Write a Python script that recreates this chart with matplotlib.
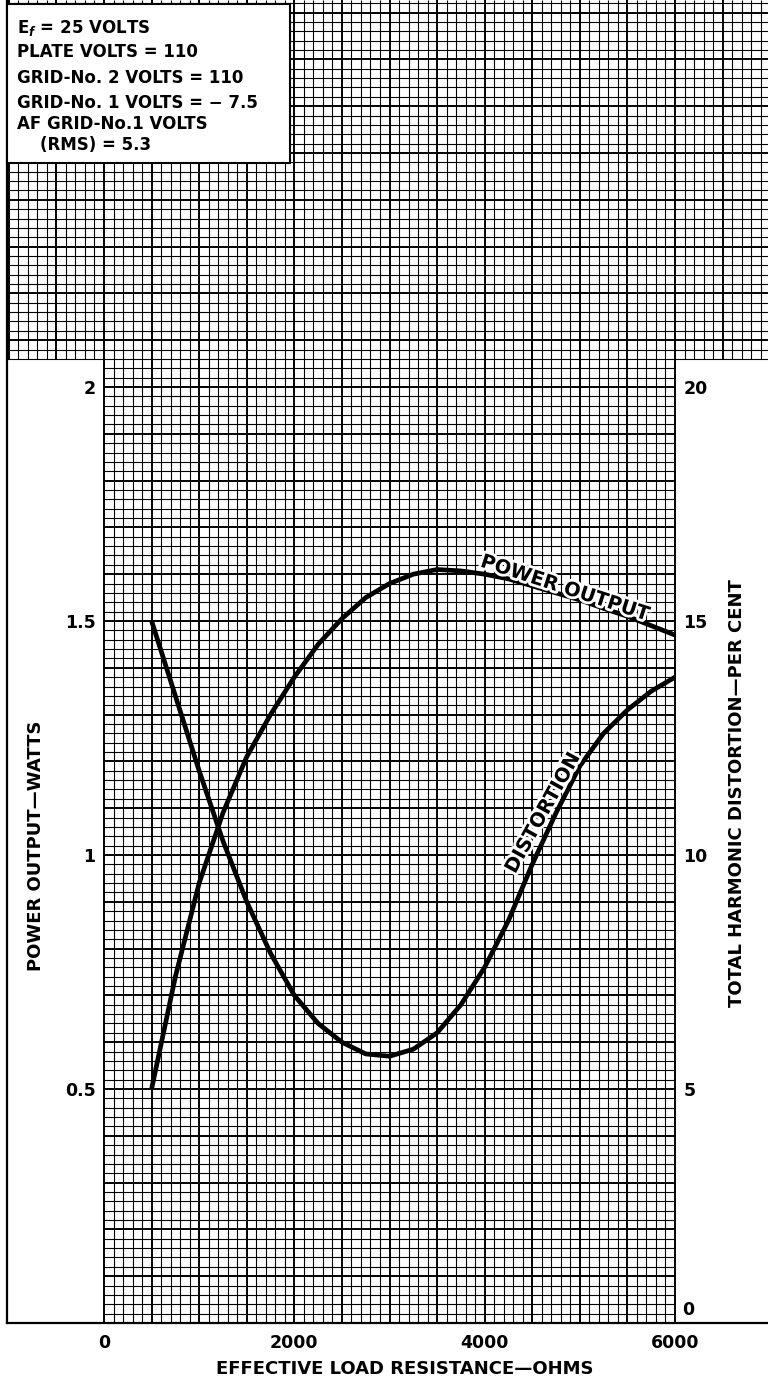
import numpy as np
import matplotlib.pyplot as plt
import matplotlib.patheffects as pe
from matplotlib.patches import Rectangle

# ----------------------------
# Curve data
# ----------------------------
resistance = [500, 750, 1000, 1250, 1500, 1750, 2000, 2250, 2500, 2750, 3000,
              3250, 3500, 3750, 4000, 4250, 4500, 4750, 5000, 5250, 5500, 5750, 6000]
power_watts = [0.50, 0.74, 0.94, 1.09, 1.21, 1.30, 1.38, 1.45, 1.505, 1.55, 1.58,
               1.60, 1.61, 1.607, 1.60, 1.59, 1.575, 1.56, 1.545, 1.527, 1.51, 1.49, 1.47]
distortion_pct = [15.0, 13.4, 11.8, 10.3, 9.0, 7.9, 7.0, 6.4, 6.0, 5.75, 5.7,
                  5.85, 6.2, 6.8, 7.6, 8.6, 9.8, 10.9, 11.9, 12.6, 13.1, 13.5, 13.8]

x_ticks = [0, 2000, 4000, 6000]
power_ticks = [0.5, 1, 1.5, 2]
power_labels = ["0.5", "1", "1.5", "2"]
dist_ticks = [5, 10, 15, 20]
dist_labels = ["5", "10", "15", "20"]

conditions = [
    r"E$_{f}$ = 25 VOLTS",
    "PLATE VOLTS = 110",
    "GRID-No. 2 VOLTS = 110",
    "GRID-No. 1 VOLTS = \u2212 7.5",
    "AF GRID-No.1 VOLTS",
    "    (RMS) = 5.3",
]

plt.rcParams["font.family"] = ["DejaVu Sans"]
plt.rcParams["font.weight"] = "bold"
plt.rcParams["axes.labelweight"] = "bold"

W, H = 768, 1389
fig = plt.figure(figsize=(W / 100, H / 100), dpi=100)

# pixel layout of the printed sheet
left_px = 7
x0_px, x6000_px = 104, 675
y0_px, y2_px = 1323, 387
ohm_per_px = 6000 / (x6000_px - x0_px)
watt_per_px = 2 / (y0_px - y2_px)

# ----------------------------
# Graph paper (background frame)
# ----------------------------
frame = fig.add_axes([left_px / W, 1 - y0_px / H, (W - left_px) / W, y0_px / H])
xmin = (left_px - x0_px) * ohm_per_px
xmax = (W - x0_px) * ohm_per_px
ytop = y0_px * watt_per_px
frame.set_xlim(xmin, xmax)
frame.set_ylim(0, ytop)
frame.set_xticks([])
frame.set_yticks([])
for s in ["top", "right"]:
    frame.spines[s].set_visible(False)
for s in ["left", "bottom"]:
    frame.spines[s].set_linewidth(1.6)

minor_lw, major_lw = 0.8, 1.4
y_cut = 103  # index of first row that runs across the full width (2.06 W)

ix = np.arange(-10, 70)
xs = ix * 100
inside = (xs >= 0) & (xs <= 6000)
heavy_x = ix % 5 == 0
for mask, lw in [(~heavy_x, minor_lw), (heavy_x, major_lw)]:
    frame.vlines(xs[mask & inside], 0, ytop, color="black", lw=lw)
    frame.vlines(xs[mask & ~inside], y_cut * 0.02, ytop, color="black", lw=lw)

iy = np.arange(0, int(ytop / 0.02) + 1)
ys = iy * 0.02
heavy_y = iy % 5 == 0
low = iy < y_cut
for mask, lw in [(~heavy_y, minor_lw), (heavy_y, major_lw)]:
    frame.hlines(ys[mask & low], 0, 6000, color="black", lw=lw)
    frame.hlines(ys[mask & ~low], xmin, xmax, color="black", lw=lw)

# ----------------------------
# Data axes
# ----------------------------
ax = fig.add_axes([x0_px / W, 1 - y0_px / H, (x6000_px - x0_px) / W, (y0_px - y2_px) / H])
ax.set_facecolor("none")
ax.set_xlim(0, 6000)
ax.set_ylim(0, 2)
for s in ax.spines.values():
    s.set_visible(False)

ax.set_xticks(x_ticks, [str(t) for t in x_ticks])
ax.set_yticks(power_ticks, power_labels)
ax.tick_params(axis="x", length=0, pad=8, labelsize=12.5)
ax.tick_params(axis="y", length=0, pad=6, labelsize=12.5)

ax2 = ax.twinx()
ax2.set_ylim(0, 20)
for s in ax2.spines.values():
    s.set_visible(False)
ax2.set_yticks(dist_ticks, dist_labels)
ax2.tick_params(axis="y", length=0, pad=6, labelsize=12.5)
ax2.annotate("0", xy=(1, 0), xycoords=ax2.get_yaxis_transform(),
             xytext=(5, 3), textcoords="offset points",
             ha="left", va="bottom", fontsize=12.5)

ax.plot(resistance, power_watts, color="black", lw=3.4, solid_capstyle="butt", zorder=5)
ax2.plot(resistance, distortion_pct, color="black", lw=3.4, solid_capstyle="butt", zorder=5)

halo = [pe.withStroke(linewidth=4, foreground="white")]
ax.text(4844, 1.57, "POWER OUTPUT", rotation=-18, rotation_mode="anchor",
        ha="center", va="center", fontsize=14, path_effects=halo, zorder=6)
ax2.text(4613, 10.9, "DISTORTION", rotation=61, rotation_mode="anchor",
         ha="center", va="center", fontsize=14, path_effects=halo, zorder=6)

ax.set_xlabel("EFFECTIVE LOAD RESISTANCE\u2014OHMS", fontsize=13)
ax.xaxis.set_label_coords(0.527, -0.040)
ax.set_ylabel("POWER OUTPUT\u2014WATTS", fontsize=13)
ax.yaxis.set_label_coords(-0.103, 0.51)
ax2.set_ylabel("TOTAL HARMONIC DISTORTION\u2014PER CENT", fontsize=13)
ax2.yaxis.set_label_coords(1.093, 0.566)

# ----------------------------
# Operating conditions box
# ----------------------------
fig.patches.append(Rectangle((left_px / W, 1 - 163 / H), (290 - left_px) / W, 159 / H,
                             transform=fig.transFigure, facecolor="white",
                             edgecolor="black", lw=1.5, zorder=10))
line_y = [28, 52, 78, 103, 124, 145]
for txt, yy in zip(conditions, line_y):
    fig.text(17 / W, 1 - yy / H, txt, ha="left", va="center", fontsize=12, zorder=11)

fig.savefig("out.png", dpi=100)
